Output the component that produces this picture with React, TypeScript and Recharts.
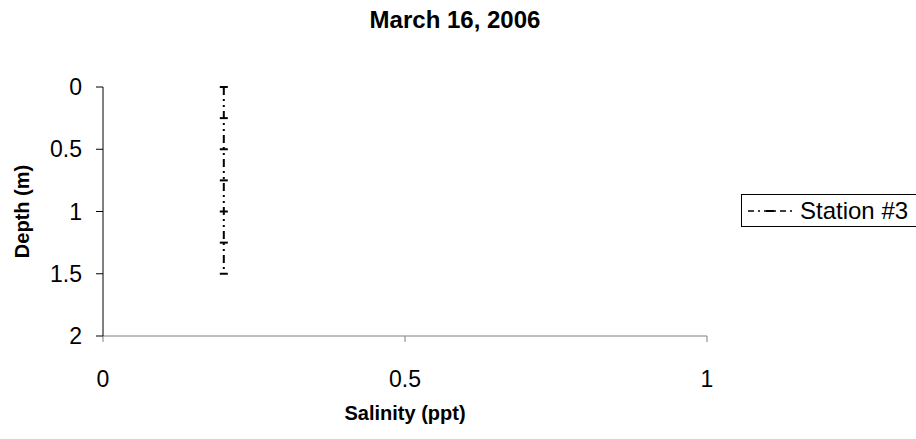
import React from "react";
import { LineChart, Line, XAxis, YAxis, Label } from "recharts";

const depths = [0, 0.25, 0.5, 0.75, 1, 1.25, 1.5];
const salinity = [0.2, 0.2, 0.2, 0.2, 0.2, 0.2, 0.2];
const xTicks = [0, 0.5, 1];
const yTicks = [0, 0.5, 1, 1.5, 2];

const data = depths.map((d, i) => ({ depth: d, sal: salinity[i] }));

const font = "'Liberation Sans', Arial, sans-serif";

const DashDot = (props: any) => {
    const { cx, cy } = props;
    if (cx == null || cy == null) return null;
    return <line x1={cx - 4} y1={cy} x2={cx + 4} y2={cy} stroke="#000" strokeWidth={2} />;
};

const LegendBox = () => (
    <div
        style={{
            position: "absolute",
            left: 741,
            top: 194,
            width: 190,
            height: 33,
            boxSizing: "border-box",
            border: "1px solid #000",
            background: "#fff",
            display: "flex",
            alignItems: "center",
            fontFamily: font,
            fontSize: 24,
        }}
    >
        <svg width={52} height={10} style={{ flex: "none" }}>
            <line x1={6} y1={5} x2={50} y2={5} stroke="#000" strokeWidth={1.5} strokeDasharray="6 4 2 4" />
            <line x1={24} y1={5} x2={32} y2={5} stroke="#000" strokeWidth={2} />
        </svg>
        <span style={{ marginLeft: 6 }}>Station #3</span>
    </div>
);

const App = () => {
    return (
        <div style={{ position: "absolute", left: 0, top: 0, width: 916, height: 439, background: "#fff", overflow: "hidden" }}>
            <div
                style={{
                    position: "absolute",
                    top: 6,
                    left: 0,
                    width: 910,
                    textAlign: "center",
                    fontFamily: font,
                    fontWeight: "bold",
                    fontSize: 24,
                }}
            >
                March 16, 2006
            </div>
            <LineChart width={916} height={439} data={data} margin={{ top: 87, right: 209, bottom: 0, left: 0 }}>
                <XAxis
                    type="number"
                    dataKey="sal"
                    domain={[0, 1]}
                    ticks={xTicks}
                    stroke="#808080"
                    tickSize={6}
                    tickMargin={29}
                    height={103}
                    tick={{ fill: "#000", fontSize: 23, fontFamily: font }}
                >
                    <Label value="Salinity (ppt)" position="insideTop" offset={70} style={{ fontFamily: font, fontWeight: "bold", fontSize: 20, fill: "#000" }} />
                </XAxis>
                <YAxis
                    type="number"
                    dataKey="depth"
                    reversed
                    domain={[0, 2]}
                    ticks={yTicks}
                    stroke="#000"
                    tickSize={7}
                    tickMargin={14}
                    width={103}
                    tick={{ fill: "#000", fontSize: 23, fontFamily: font }}
                >
                    <Label value="Depth (m)" angle={-90} position="insideLeft" offset={22} style={{ fontFamily: font, fontWeight: "bold", fontSize: 20, fill: "#000", textAnchor: "middle" }} />
                </YAxis>
                <Line
                    type="linear"
                    dataKey="depth"
                    stroke="#000"
                    strokeWidth={2}
                    strokeDasharray="8 4 2 4 2 4"
                    dot={<DashDot />}
                    isAnimationActive={false}
                />
            </LineChart>
            <LegendBox />
        </div>
    );
};

export default App;
